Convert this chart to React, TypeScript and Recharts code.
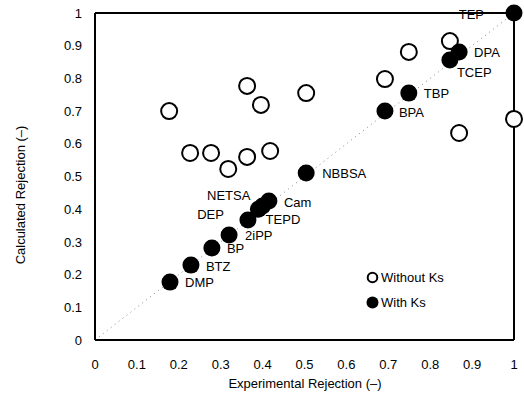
import React from 'react';
import {
  ScatterChart,
  Scatter,
  XAxis,
  YAxis,
  ReferenceLine,
} from 'recharts';

// tick labels
const ticks = [0, 0.1, 0.2, 0.3, 0.4, 0.5, 0.6, 0.7, 0.8, 0.9, 1];

// open circles: without Ks
const withoutExp = [0.177, 0.227, 0.277, 0.318, 0.363, 0.363, 0.396, 0.418, 0.504, 0.692, 0.749, 0.847, 0.869, 1.0];
const withoutCalc = [0.7, 0.572, 0.572, 0.523, 0.56, 0.777, 0.719, 0.578, 0.755, 0.798, 0.881, 0.914, 0.633, 0.676];

// filled circles: with Ks
const compounds = ['DMP', 'BTZ', 'BP', '2iPP', 'DEP', 'NETSA', 'TEPD', 'Cam', 'NBBSA', 'BPA', 'TBP', 'TCEP', 'DPA', 'TEP'];
const withExp = [0.179, 0.229, 0.279, 0.32, 0.365, 0.39, 0.4, 0.415, 0.504, 0.692, 0.749, 0.847, 0.869, 1.0];
const withCalc = [0.177, 0.229, 0.281, 0.321, 0.367, 0.4, 0.41, 0.425, 0.511, 0.7, 0.755, 0.856, 0.881, 1.0];

const withoutData = withoutExp.map((x, i) => ({ x, y: withoutCalc[i] }));
const withData = withExp.map((x, i) => ({ x, y: withCalc[i], name: compounds[i] }));

// where each compound label sits relative to its marker
const labelPlace: Record<string, [number, number, 'start' | 'end']> = {
  DMP: [15, 0, 'start'],
  BTZ: [15, 1, 'start'],
  BP: [15, 0, 'start'],
  '2iPP': [16, 0, 'start'],
  DEP: [-24, -5, 'end'],
  NETSA: [-8, -14, 'end'],
  TEPD: [3, 14, 'start'],
  Cam: [15, 1, 'start'],
  NBBSA: [16, 1, 'start'],
  BPA: [14, 1, 'start'],
  TBP: [15, 0, 'start'],
  TCEP: [7, 12, 'start'],
  DPA: [15, 1, 'start'],
  TEP: [-30, 1, 'end'],
};

const font = '"Liberation Sans", Arial, sans-serif';
const dash = '\u2013';

const OpenDot = (props: any) => (
  <circle cx={props.cx} cy={props.cy} r={8} fill="#fff" stroke="#000" strokeWidth={2} />
);

const FilledDot = (props: any) => {
  const name = props.payload?.name;
  const p = labelPlace[name] || [14, 0, 'start'];
  return (
    <g>
      <circle cx={props.cx} cy={props.cy} r={8.5} fill="#000" />
      <text
        x={props.cx + p[0]}
        y={props.cy + p[1]}
        textAnchor={p[2]}
        dominantBaseline="central"
        fontSize={13}
        fontFamily={font}
        fill="#000"
      >
        {name}
      </text>
    </g>
  );
};

const KeyBox = () => (
  <div
    style={{
      position: 'absolute',
      left: 366,
      top: 265,
      fontFamily: font,
      fontSize: 13,
      color: '#000',
      lineHeight: '25px',
    }}
  >
    <div style={{ display: 'flex', alignItems: 'center' }}>
      <svg width={13} height={13}>
        <circle cx={6.5} cy={6.5} r={4.8} fill="#fff" stroke="#000" strokeWidth={2} />
      </svg>
      <span style={{ marginLeft: 2 }}>Without Ks</span>
    </div>
    <div style={{ display: 'flex', alignItems: 'center' }}>
      <svg width={13} height={13}>
        <circle cx={6.5} cy={6.5} r={6} fill="#000" />
      </svg>
      <span style={{ marginLeft: 2 }}>With Ks</span>
    </div>
  </div>
);

export default function App() {
  return (
    <div style={{ position: 'absolute', left: 0, top: 0, width: 524, height: 395, background: '#fff' }}>
      <ScatterChart width={524} height={395} margin={{ top: 13, right: 10, bottom: 25, left: 35 }}>
        <XAxis
          type="number"
          dataKey="x"
          domain={[0, 1]}
          ticks={ticks}
          tickLine={false}
          tickMargin={14}
          axisLine={{ stroke: '#000', strokeWidth: 2 }}
          tick={{ fill: '#000', fontSize: 13, fontFamily: font }}
          height={30}
        />
        <YAxis
          type="number"
          dataKey="y"
          domain={[0, 1]}
          ticks={ticks}
          tickLine={false}
          tickMargin={7}
          axisLine={{ stroke: '#000', strokeWidth: 2 }}
          tick={{ fill: '#000', fontSize: 13, fontFamily: font }}
          width={60}
        />
        <ReferenceLine
          segment={[{ x: 0, y: 0 }, { x: 1, y: 1 }]}
          stroke="#888"
          strokeDasharray="1 4"
        />
        <ReferenceLine x={1} stroke="#000" strokeWidth={2} />
        <ReferenceLine y={1} stroke="#000" strokeWidth={2} />
        <Scatter name="Without Ks" data={withoutData} shape={OpenDot} isAnimationActive={false} />
        <Scatter name="With Ks" data={withData} shape={FilledDot} isAnimationActive={false} />
      </ScatterChart>
      <KeyBox />
      <div
        style={{
          position: 'absolute',
          left: 0,
          width: 610,
          top: 376,
          textAlign: 'center',
          fontFamily: font,
          fontSize: 13,
          color: '#000',
        }}
      >
        {`Experimental Rejection (${dash})`}
      </div>
      <div
        style={{
          position: 'absolute',
          left: 20,
          top: 195,
          transform: 'translate(-50%, -50%) rotate(-90deg)',
          whiteSpace: 'nowrap',
          fontFamily: font,
          fontSize: 13,
          color: '#000',
        }}
      >
        {`Calculated Rejection (${dash})`}
      </div>
    </div>
  );
}
